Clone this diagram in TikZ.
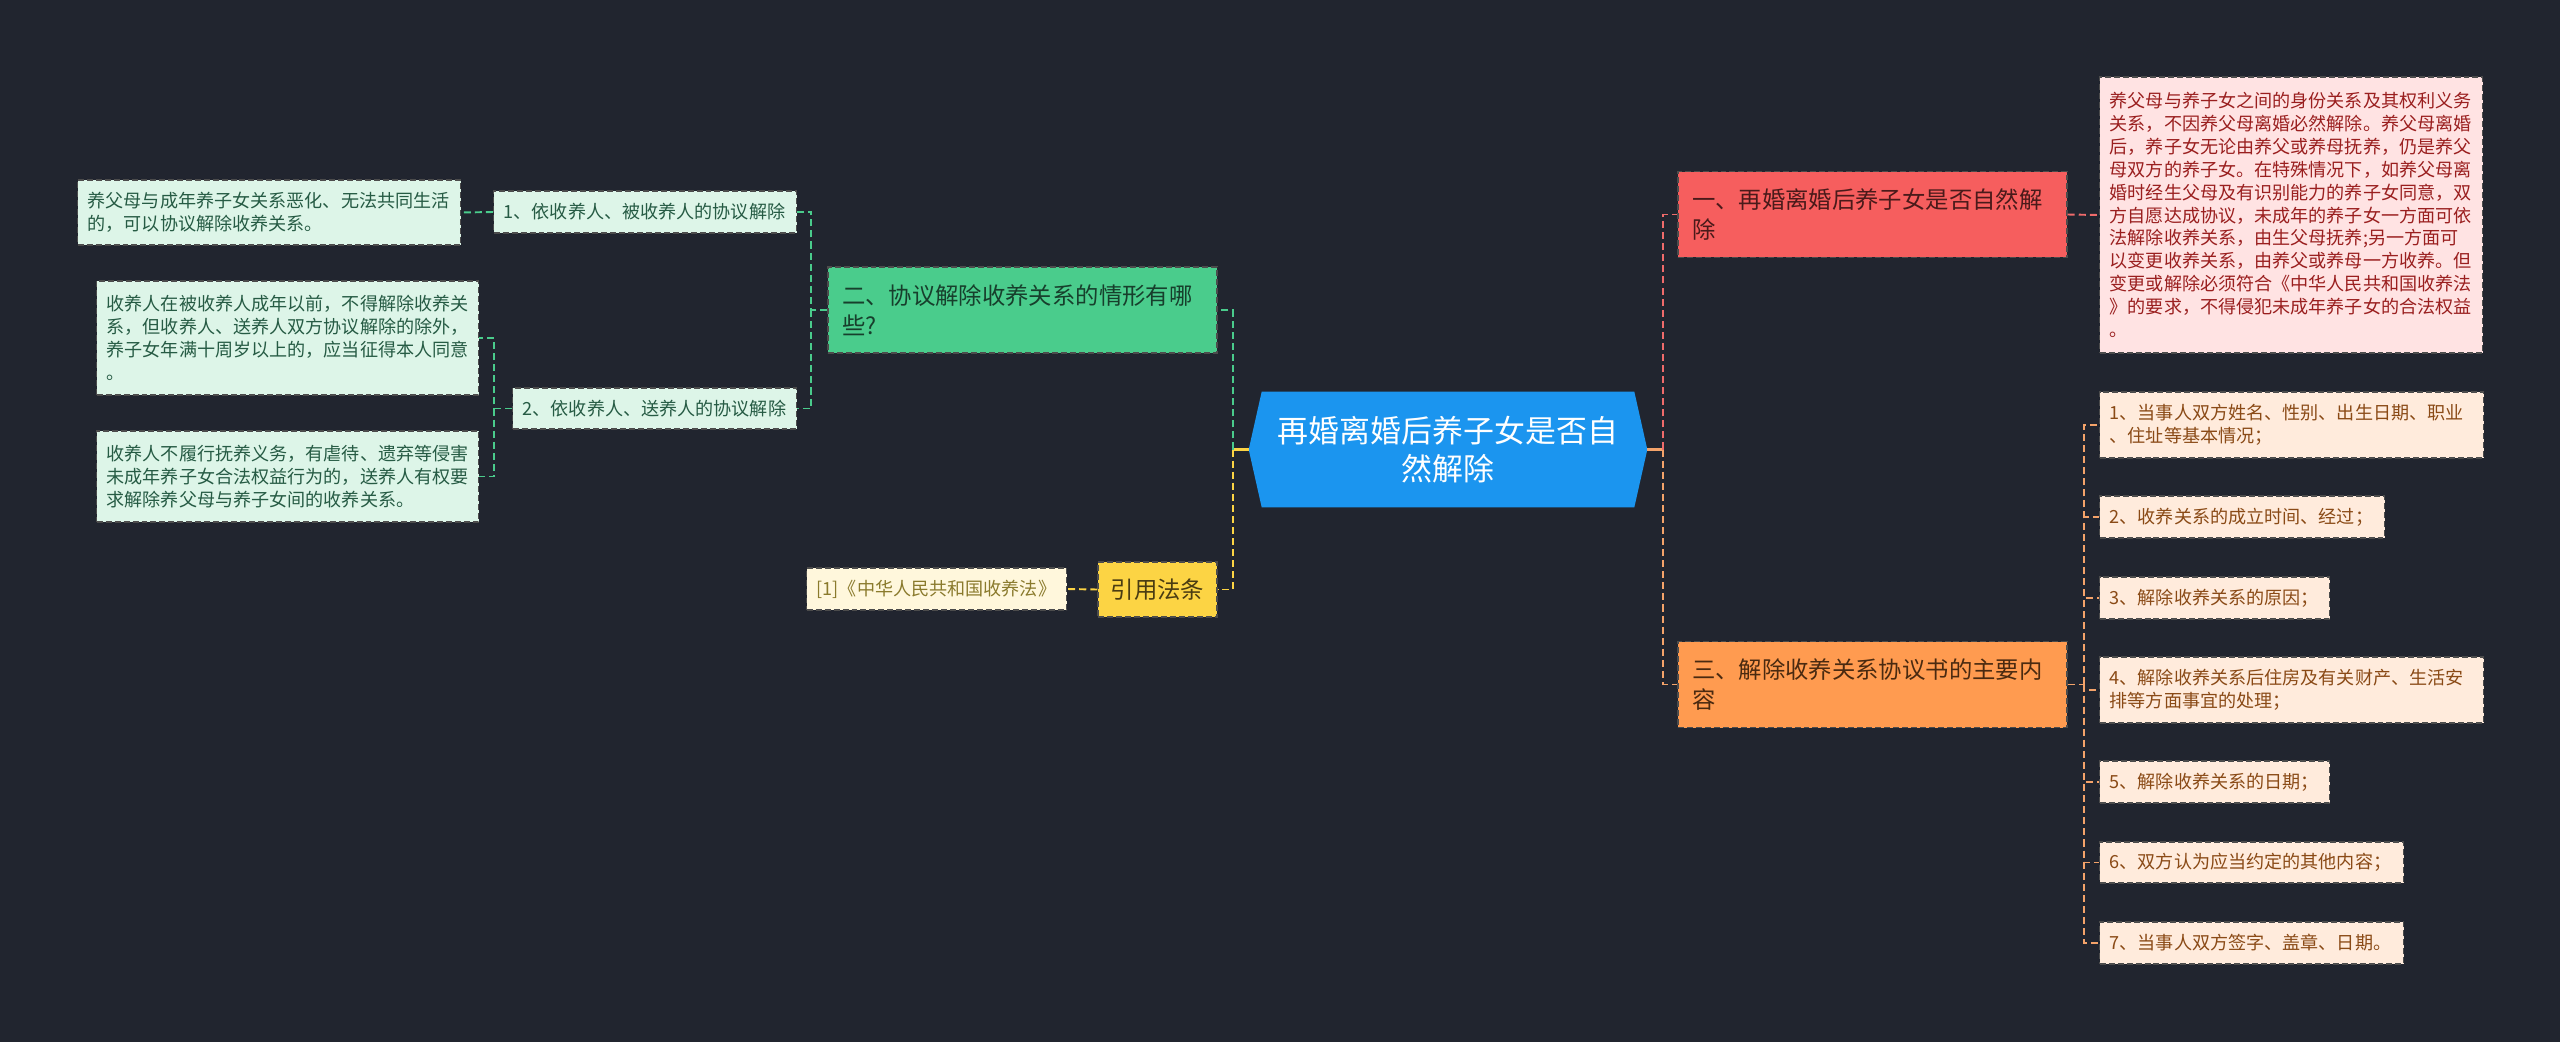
\documentclass[tikz,border=0pt]{standalone}
\usepackage{fontspec}
\setmainfont{Noto Sans CJK SC}
\usetikzlibrary{backgrounds}

\definecolor{bgcol}{HTML}{21252F}
\definecolor{rootblue}{HTML}{1B95EF}
\definecolor{redmain}{HTML}{F65E5E}
\definecolor{redmaintext}{HTML}{4A1A1A}
\definecolor{redleaf}{HTML}{FFE3E3}
\definecolor{redtext}{HTML}{9A1F1F}
\definecolor{redline}{HTML}{EF6B6B}
\definecolor{grnmain}{HTML}{4ACC8C}
\definecolor{grnmaintext}{HTML}{173F2C}
\definecolor{grnleaf}{HTML}{DDF5E8}
\definecolor{grntext}{HTML}{265B44}
\definecolor{ormain}{HTML}{FF9B50}
\definecolor{ormaintext}{HTML}{4A2A10}
\definecolor{orleaf}{HTML}{FFEBDC}
\definecolor{ortext}{HTML}{8A4A16}
\definecolor{orline}{HTML}{F4A36A}
\definecolor{ylmain}{HTML}{FCD444}
\definecolor{ylmaintext}{HTML}{4A3C12}
\definecolor{ylleaf}{HTML}{FFF7DC}
\definecolor{yltext}{HTML}{8A7A2C}

\tikzset{
  box/.style={rectangle, draw=black!70, dash pattern=on 3.4pt off 1.7pt, line width=0.8pt, inner ysep=0pt, align=left},
  leaf/.style={box, inner xsep=0.2cm, font=\fontsize{10.3pt}{13pt}\selectfont, anchor=west},
  branch/.style={box, inner xsep=0.28cm, text width=7.22cm, minimum height=1.72cm, font=\fontsize{13.3pt}{17pt}\selectfont},
  link/.style={line width=1.1pt, dash pattern=on 4pt off 2.3pt},
}

\begin{document}
\begin{tikzpicture}[x=0.02cm, y=-0.02cm]
  \useasboundingbox (0,0) rectangle (2560,1042);
  % root and branches
  \node[minimum width=7.96cm, minimum height=2.3cm, align=center, text=white, font=\fontsize{17.6pt}{21.6pt}\selectfont] (root) at (1448,449.5) {再婚离婚后养子女是否自\\然解除};
  \node[branch, fill=redmain, text=redmaintext] (red) at (1872.5,214.5) {一、再婚离婚后养子女是否自然解\\除};
  \node[branch, fill=grnmain, text=grnmaintext] (grn) at (1022.5,310) {二、协议解除收养关系的情形有哪\\些?};
  \node[branch, fill=ormain, text=ormaintext] (org) at (1872.5,684.5) {三、解除收养关系协议书的主要内\\容};
  \node[box, fill=ylmain, text=ylmaintext, inner xsep=0.25cm, minimum width=2.38cm, minimum height=1.1cm, font=\fontsize{13.3pt}{17pt}\selectfont] (law) at (1157.5,589.5) {引用法条};

  % left side
  \node[leaf, fill=grnleaf, text=grntext, text width=5.66cm, minimum height=0.84cm] (g1) at (493,212) {1、依收养人、被收养人的协议解除};
  \node[leaf, fill=grnleaf, text=grntext, text width=5.28cm, minimum height=0.82cm] (g2) at (512,408.5) {2、依收养人、送养人的协议解除};
  \node[leaf, fill=grnleaf, text=grntext, text width=7.26cm, minimum height=1.3cm] (a1) at (77,212.5) {养父母与成年养子女关系恶化、无法共同生活\\的，可以协议解除收养关系。};
  \node[leaf, fill=grnleaf, text=grntext, text width=7.24cm, minimum height=2.28cm] (a2) at (96,338) {收养人在被收养人成年以前，不得解除收养关\\系，但收养人、送养人双方协议解除的除外，\\养子女年满十周岁以上的，应当征得本人同意\\。};
  \node[leaf, fill=grnleaf, text=grntext, text width=7.24cm, minimum height=1.82cm] (a3) at (96,476.5) {收养人不履行抚养义务，有虐待、遗弃等侵害\\未成年养子女合法权益行为的，送养人有权要\\求解除养父母与养子女间的收养关系。};
  \node[leaf, fill=ylleaf, text=yltext, text width=4.8cm, minimum height=0.84cm] (lawref) at (806,589) {[1]《中华人民共和国收养法》};

  % right side
  \node[leaf, fill=redleaf, text=redtext, text width=7.26cm, minimum height=5.52cm] (rleaf) at (2099,215) {养父母与养子女之间的身份关系及其权利义务\\关系，不因养父母离婚必然解除。养父母离婚\\后，养子女无论由养父或养母抚养，仍是养父\\母双方的养子女。在特殊情况下，如养父母离\\婚时经生父母及有识别能力的养子女同意，双\\方自愿达成协议，未成年的养子女一方面可依\\法解除收养关系，由生父母抚养;另一方面可\\以变更收养关系，由养父或养母一方收养。但\\变更或解除必须符合《中华人民共和国收养法\\》的要求，不得侵犯未成年养子女的合法权益\\。};
  \node[leaf, fill=orleaf, text=ortext, text width=7.28cm, minimum height=1.32cm] (o1) at (2099,425) {1、当事人双方姓名、性别、出生日期、职业\\、住址等基本情况；};
  \node[leaf, fill=orleaf, text=ortext, text width=5.3cm, minimum height=0.84cm] (o2) at (2099,517) {2、收养关系的成立时间、经过；};
  \node[leaf, fill=orleaf, text=ortext, text width=4.2cm, minimum height=0.84cm] (o3) at (2099,598) {3、解除收养关系的原因；};
  \node[leaf, fill=orleaf, text=ortext, text width=7.28cm, minimum height=1.32cm] (o4) at (2099,690) {4、解除收养关系后住房及有关财产、生活安\\排等方面事宜的处理；};
  \node[leaf, fill=orleaf, text=ortext, text width=4.2cm, minimum height=0.84cm] (o5) at (2099,782) {5、解除收养关系的日期；};
  \node[leaf, fill=orleaf, text=ortext, text width=5.68cm, minimum height=0.82cm] (o6) at (2099,862.5) {6、双方认为应当约定的其他内容；};
  \node[leaf, fill=orleaf, text=ortext, text width=5.68cm, minimum height=0.84cm] (o7) at (2099,943) {7、当事人双方签字、盖章、日期。};

  \begin{scope}[on background layer]
    \fill[bgcol] (0,0) rectangle (2560,1042);
    \fill[rootblue] ([xshift=0.26cm]root.north west) -- ([xshift=-0.26cm]root.north east) -- (root.east)
      -- ([xshift=-0.26cm]root.south east) -- ([xshift=0.26cm]root.south west) -- (root.west) -- cycle;
  \end{scope}

  % connectors
  \coordinate (jl) at ([xshift=-0.32cm]root.west);
  \coordinate (jr) at ([xshift=0.32cm]root.east);
  \draw[ylmain, line width=1.3pt] (root.west) -- (jl);
  \draw[link, grnmain] (jl) |- (grn.east);
  \draw[link, ylmain] (jl) |- (law.east);
  \draw[orline, line width=1.3pt] (root.east) -- (jr);
  \draw[link, redline] (jr) |- (red.west);
  \draw[link, orline] (jr) |- (org.west);

  \coordinate (jg) at ([xshift=-0.32cm]grn.west);
  \draw[link, grnmain] (grn.west) -- (jg) |- (g1.east);
  \draw[link, grnmain] (jg) |- (g2.east);
  \draw[link, grnmain] (g1.west) -- (a1.east);
  \coordinate (jg2) at ([xshift=-0.36cm]g2.west);
  \draw[link, grnmain] (g2.west) -- (jg2) |- (a2.east);
  \draw[link, grnmain] (jg2) |- (a3.east);
  \draw[link, ylmain] (law.west) -- (lawref.east);

  \draw[link, redline] (red.east) -- (rleaf.west);
  \coordinate (jo) at ([xshift=0.32cm]org.east);
  \draw[link, orline] (org.east) -- (jo);
  \foreach \i in {1,...,7}
    \draw[link, orline] (jo) |- (o\i.west);
\end{tikzpicture}
\end{document}
